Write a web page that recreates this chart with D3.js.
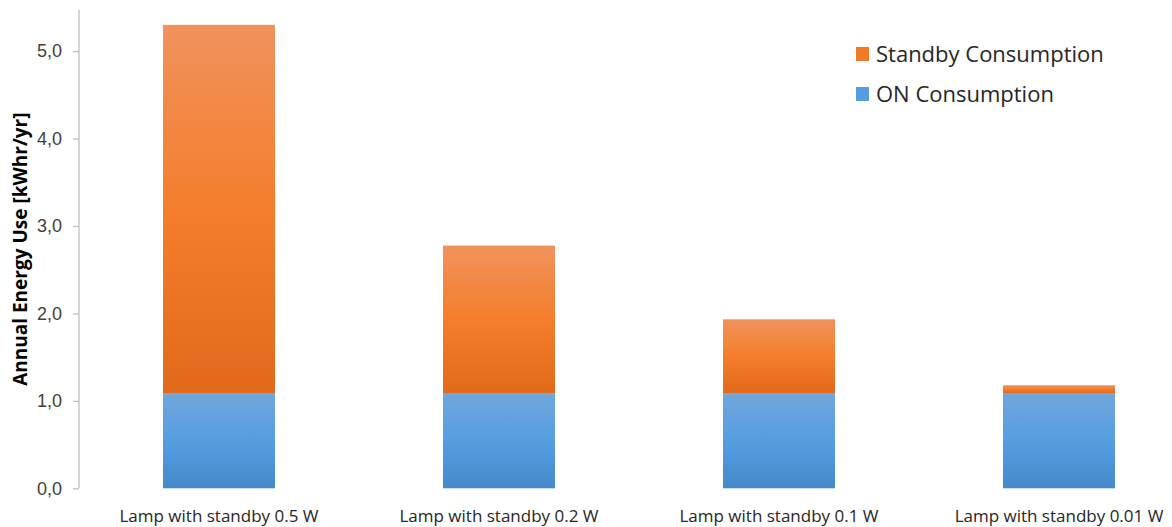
<!DOCTYPE html>
<html>
<head>
<meta charset="utf-8">
<script src="https://cdn.jsdelivr.net/npm/d3@7"></script>
<style>
  html, body { margin: 0; padding: 0; background: #fff; }
  svg { display: block; font-family: "Open Sans", "Noto Sans", sans-serif; }
</style>
</head>
<body>
<svg id="chart" width="1172" height="527"></svg>
<script>
// Annual energy use per lamp, split into ON and standby consumption (kWh/yr)
const categories = [
  "Lamp with standby 0.5 W",
  "Lamp with standby 0.2 W",
  "Lamp with standby 0.1 W",
  "Lamp with standby 0.01 W"
];
const onConsumption = [1.09, 1.09, 1.09, 1.09];
const standbyConsumption = [4.21, 1.686, 0.843, 0.088];
const yTicks = [0, 1, 2, 3, 4, 5];
const seriesNames = ["Standby Consumption", "ON Consumption"];

const svg = d3.select("#chart");
const margin = { left: 79, top: 10, bottom: 488.3 };

const x = d3.scaleBand()
  .domain(categories)
  .range([margin.left, margin.left + 1120])
  .paddingInner(0.6)
  .paddingOuter(0.3);

const y = d3.scaleLinear()
  .domain([0, 5.47])
  .range([margin.bottom, margin.top]);

// Vertical gradients (light at the top, deeper at the bottom)
const defs = svg.append("defs");
function addGradient(id, stops) {
  const g = defs.append("linearGradient")
    .attr("id", id).attr("x1", 0).attr("y1", 0).attr("x2", 0).attr("y2", 1);
  stops.forEach(([o, c]) => g.append("stop").attr("offset", o).attr("stop-color", c));
}
addGradient("gradStandby", [[0, "#F0925C"], [0.5, "#F47E2C"], [1, "#E2691B"]]);
addGradient("gradOn", [[0, "#70A7DD"], [0.5, "#569DE0"], [1, "#4589CA"]]);

const rows = categories.map((c, i) => ({
  cat: c,
  on: onConsumption[i],
  standby: standbyConsumption[i]
}));

// ON segment (bottom)
svg.append("g").selectAll("rect")
  .data(rows).join("rect")
  .attr("x", d => x(d.cat))
  .attr("width", x.bandwidth())
  .attr("y", d => y(d.on))
  .attr("height", d => y(0) - y(d.on))
  .attr("fill", "url(#gradOn)");

// Standby segment (stacked on top)
svg.append("g").selectAll("rect")
  .data(rows).join("rect")
  .attr("x", d => x(d.cat))
  .attr("width", x.bandwidth())
  .attr("y", d => y(d.on + d.standby))
  .attr("height", d => y(d.on) - y(d.on + d.standby))
  .attr("fill", "url(#gradStandby)");

// Y axis
const yAxis = svg.append("g")
  .attr("transform", `translate(${margin.left},0)`)
  .call(d3.axisLeft(y)
    .tickValues(yTicks)
    .tickSize(6)
    .tickPadding(11)
    .tickFormat(d => d3.format(".1f")(d).replace(".", ",")));
yAxis.select(".domain")
  .attr("d", `M0,${y(5.47)}V${y(0)}`)
  .attr("stroke", "#BFBFBF").attr("stroke-width", 1.3);
yAxis.selectAll(".tick line").attr("stroke", "#BFBFBF").attr("stroke-width", 1.3);
yAxis.selectAll(".tick text")
  .attr("fill", "#404040")
  .style("font-size", "18px");

// Category labels
svg.append("g").selectAll("text")
  .data(categories).join("text")
  .attr("x", d => x(d) + x.bandwidth() / 2)
  .attr("y", 522)
  .attr("text-anchor", "middle")
  .attr("fill", "#262626")
  .style("font-size", "17px")
  .text(d => d);

// Y axis title
svg.append("text")
  .attr("transform", `translate(27,${(y(0) + y(5.47)) / 2}) rotate(-90)`)
  .attr("text-anchor", "middle")
  .attr("fill", "#000")
  .style("font-size", "19px")
  .style("font-weight", "bold")
  .text("Annual Energy Use [kWhr/yr]");

// Legend
const legendColors = ["#F07A28", "#569DE0"];
const legend = svg.append("g").selectAll("g")
  .data(seriesNames).join("g")
  .attr("transform", (d, i) => `translate(856,${47 + i * 40})`);
legend.append("rect")
  .attr("width", 13).attr("height", 14)
  .attr("fill", (d, i) => legendColors[i]);
legend.append("text")
  .attr("x", 20).attr("y", 15)
  .attr("fill", "#262626")
  .style("font-size", "22px")
  .text(d => d);
</script>
</body>
</html>
